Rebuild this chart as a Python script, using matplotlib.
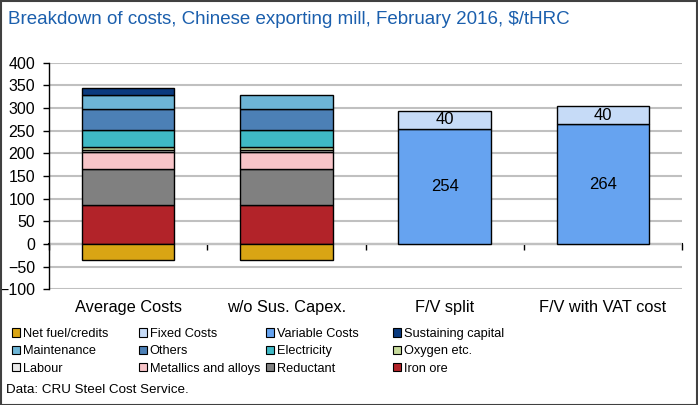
import matplotlib
matplotlib.use("Agg")
import matplotlib.pyplot as plt
from matplotlib.patches import Patch, Rectangle
import numpy as np

plt.rcParams['font.family'] = ['Liberation Sans', 'DejaVu Sans']

categories = ["Average Costs", "w/o Sus. Capex.", "F/V split", "F/V with VAT cost"]

# stacked series (bottom to top), values per category
iron_ore    = [85, 85, 0, 0]
reductant   = [81, 81, 0, 0]
metallics   = [36, 36, 0, 0]
labour      = [6, 6, 0, 0]
oxygen      = [5, 5, 0, 0]
electricity = [38, 38, 0, 0]
others      = [46, 46, 0, 0]
maintenance = [32, 32, 0, 0]
sustaining  = [16, 0, 0, 0]
net_fuel    = [-35, -35, 0, 0]
variable_costs = [0, 0, 254, 264]
fixed_costs    = [0, 0, 40, 40]

series_labels = ["Iron ore", "Reductant", "Metallics and alloys", "Labour", "Oxygen etc.",
                 "Electricity", "Others", "Maintenance", "Sustaining capital"]
series_values = [iron_ore, reductant, metallics, labour, oxygen, electricity, others,
                 maintenance, sustaining]
colors = {
    "Net fuel/credits": "#D9A514",
    "Fixed Costs": "#C6DBF7",
    "Variable Costs": "#66A3F0",
    "Sustaining capital": "#0A3A7E",
    "Maintenance": "#6DB5D6",
    "Others": "#4C80B6",
    "Electricity": "#3FB9C5",
    "Oxygen etc.": "#C7DB9C",
    "Labour": "#E9E9E9",
    "Metallics and alloys": "#F7C4C8",
    "Reductant": "#808080",
    "Iron ore": "#B22329",
}
legend_rows = [["Net fuel/credits", "Fixed Costs", "Variable Costs", "Sustaining capital"],
               ["Maintenance", "Others", "Electricity", "Oxygen etc."],
               ["Labour", "Metallics and alloys", "Reductant", "Iron ore"]]
source = "Data: CRU Steel Cost Service."
title = "Breakdown of costs, Chinese exporting mill, February 2016, $/tHRC"
yticks = list(range(-100, 401, 50))

W, H = 698, 405
fig = plt.figure(figsize=(W / 100, H / 100), dpi=100)
ax = fig.add_axes([49 / W, 1 - 289.3 / H, (682 - 49) / W, (289.3 - 62.7) / H])

x = np.arange(len(categories))
bw = 0.585
ekw = dict(edgecolor="black", linewidth=1.0, width=bw, zorder=3)

bottom = np.zeros(len(categories))
for lab, vals in zip(series_labels, series_values):
    v = np.array(vals, dtype=float)
    mask = v != 0
    ax.bar(x[mask], v[mask], bottom=bottom[mask], color=colors[lab], **ekw)
    bottom += v

nf = np.array(net_fuel, dtype=float)
m = nf != 0
ax.bar(x[m], nf[m], color=colors["Net fuel/credits"], **ekw)

vc = np.array(variable_costs, dtype=float)
fc = np.array(fixed_costs, dtype=float)
m = vc != 0
ax.bar(x[m], vc[m], color=colors["Variable Costs"], **ekw)
ax.bar(x[m], fc[m], bottom=vc[m], color=colors["Fixed Costs"], **ekw)
for xi, v, f in zip(x[m], vc[m], fc[m]):
    ax.text(xi, v / 2, f"{v:.0f}", ha="center", va="center", fontsize=12, zorder=4)
    ax.text(xi, v + f / 2, f"{f:.0f}", ha="center", va="center", fontsize=12, zorder=4)

ax.set_xlim(-0.5, len(categories) - 0.5)
ax.set_ylim(-100, 400)
ax.set_yticks(yticks)
ax.yaxis.grid(True, color="#C0C0C0", linewidth=1.5, zorder=0)
ax.set_axisbelow(True)
for s in ["top", "right", "bottom"]:
    ax.spines[s].set_visible(False)
ax.spines["left"].set_linewidth(1.0)
ax.tick_params(axis="y", direction="out", length=4, width=1.0, labelsize=11.5, pad=6)
ax.set_xticks(x)
ax.set_xticklabels(categories)
ax.tick_params(axis="x", length=0, labelsize=11.8, pad=8)

sec = ax.secondary_xaxis(100 / 500)
sec.set_xticks(np.arange(len(categories) + 1) - 0.5)
sec.set_xticklabels([])
sec.spines["bottom"].set_linewidth(1.5)
sec.tick_params(axis="x", direction="out", length=4, width=1.0)

# legend: one legend per column
col_x = [12, 139, 266, 393]
for c in range(4):
    handles = [Patch(facecolor=colors[legend_rows[r][c]], edgecolor="black", linewidth=0.8,
                     label=legend_rows[r][c]) for r in range(3)]
    lg = fig.legend(handles=handles, loc="upper left",
                    bbox_to_anchor=(col_x[c] / W, 1 - 328 / H),
                    frameon=False, fontsize=9.2, handlelength=0.6, handleheight=0.6,
                    handletextpad=0.25, labelspacing=0.42, borderpad=0, borderaxespad=0)

fig.text(6 / W, 1 - 390 / H, source, fontsize=9.6, ha="left", va="center")
fig.text(8 / W, 1 - 19 / H, title, fontsize=13.5, color="#1B5FAD", ha="left", va="center")

fig.add_artist(Rectangle((0.5 / W, 0.5 / H), 1 - 1.5 / W, 1 - 1.5 / H, transform=fig.transFigure,
                         fill=False, edgecolor="#404040", linewidth=1.5))

fig.savefig("out.png", dpi=100)
